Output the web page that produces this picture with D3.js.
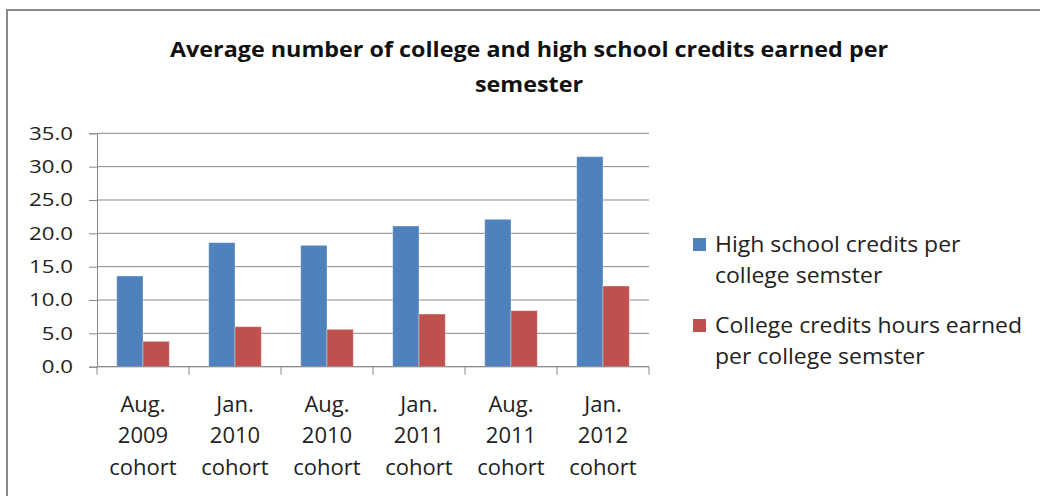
<!DOCTYPE html>
<html>
<head>
<meta charset="utf-8">
<script src="https://cdn.jsdelivr.net/npm/d3@7"></script>
<style>
  html, body { margin: 0; padding: 0; background: #fff; }
  svg { display: block; }
  text { font-family: "Open Sans", sans-serif; fill: #222; }
</style>
</head>
<body>
<svg id="chart" width="1040" height="496"></svg>
<script>
// ---- data ----
const categories = [
  ["Aug.", "2009", "cohort"],
  ["Jan.", "2010", "cohort"],
  ["Aug.", "2010", "cohort"],
  ["Jan.", "2011", "cohort"],
  ["Aug.", "2011", "cohort"],
  ["Jan.", "2012", "cohort"]
];
const seriesNames = [
  ["High school credits per", "college semster"],
  ["College credits hours earned", "per college semster"]
];
const highSchoolCredits = [13.6, 18.6, 18.2, 21.1, 22.1, 31.5];
const collegeCredits = [3.8, 6.0, 5.6, 7.9, 8.4, 12.1];
const yTicks = [0, 5, 10, 15, 20, 25, 30, 35];
const titleLines = ["Average number of college and high school credits earned per", "semester"];
const colors = ["#4F81BD", "#C0504D"];

// ---- layout ----
const svg = d3.select("#chart");
const plot = { left: 97, right: 649, top: 133.3, bottom: 366.7 };
const gridColor = "#898989";

// stretch text horizontally to target factor
function stretch(sel, k) {
  sel.each(function () {
    const w = this.getComputedTextLength();
    d3.select(this).attr("textLength", w * k).attr("lengthAdjust", "spacingAndGlyphs");
  });
}

// outer border
svg.append("rect")
  .attr("x", 7).attr("y", 10).attr("width", 1040).attr("height", 500)
  .attr("fill", "none").attr("stroke", "#8a8a8a").attr("stroke-width", 2);

// title
const title = svg.append("g");
title.selectAll("text").data(titleLines).join("text")
  .attr("x", 529).attr("y", (d, i) => 57 + i * 35)
  .attr("text-anchor", "middle")
  .style("font-weight", "bold").style("font-size", "20.5px")
  .style("fill", "#111")
  .text(d => d);
{
  const t = title.selectAll("text").nodes();
  const k = 718 / t[0].getComputedTextLength();
  stretch(title.selectAll("text"), k);
}

// scales
const idx = categories.map((d, i) => i);
const x0 = d3.scaleBand().domain(idx).range([plot.left, plot.right]).paddingInner(0).paddingOuter(0);
const barW = x0.bandwidth() / 3.5;
const x1 = d3.scaleBand().domain([0, 1]).range([0.75 * barW, 2.75 * barW]).padding(0);
const y = d3.scaleLinear().domain([0, 35]).range([plot.bottom, plot.top]);

// gridlines
svg.append("g").selectAll("line").data(yTicks).join("line")
  .attr("x1", plot.left).attr("x2", plot.right)
  .attr("y1", d => y(d)).attr("y2", d => y(d))
  .attr("stroke", gridColor).attr("stroke-width", 1);

// bars
const series = [highSchoolCredits, collegeCredits];
series.forEach((vals, s) => {
  svg.append("g").selectAll("rect").data(vals).join("rect")
    .attr("x", (d, i) => x0(i) + x1(s))
    .attr("y", d => y(d))
    .attr("width", x1.bandwidth())
    .attr("height", d => y(0) - y(d))
    .attr("fill", colors[s])
    .attr("stroke", "rgba(255,255,255,0.35)").attr("stroke-width", 1);
});

// y axis
const yAxis = svg.append("g").attr("transform", `translate(${plot.left},0)`)
  .call(d3.axisLeft(y).tickValues(yTicks).tickFormat(d3.format(".1f")).tickSize(8).tickPadding(16));
yAxis.select(".domain").attr("stroke", gridColor);
yAxis.selectAll(".tick line").attr("stroke", gridColor);
yAxis.selectAll("text").style("font-size", "18px").style("font-family", "'Open Sans', sans-serif")
  .attr("fill", "#222");
{
  const top = yAxis.selectAll("text").filter(d => d === 35).node();
  const k = 44 / top.getComputedTextLength();
  stretch(yAxis.selectAll("text"), k);
}

// x axis (ticks at category boundaries)
const boundaries = idx.map(i => x0(i)).concat([plot.right]);
const xg = svg.append("g");
xg.append("line").attr("x1", plot.left).attr("x2", plot.right)
  .attr("y1", y(0)).attr("y2", y(0)).attr("stroke", gridColor);
xg.selectAll("line.tk").data(boundaries).join("line").attr("class", "tk")
  .attr("x1", d => d).attr("x2", d => d)
  .attr("y1", y(0)).attr("y2", y(0) + 8).attr("stroke", gridColor);
const catG = xg.selectAll("text").data(categories).join("text")
  .attr("text-anchor", "middle")
  .style("font-size", "22px");
catG.selectAll("tspan").data((d, i) => d.map(line => ({ line, i }))).join("tspan")
  .attr("x", d => x0(d.i) + x0.bandwidth() / 2)
  .attr("y", (d, j) => 411.5 + j * 31.5)
  .text(d => d.line);

// legend
const legend = svg.append("g");
const legendRows = [238, 319];
seriesNames.forEach((lines, s) => {
  legend.append("rect")
    .attr("x", 693).attr("y", legendRows[s]).attr("width", 13).attr("height", 13)
    .attr("fill", colors[s]);
  legend.selectAll(null).data(lines).join("text")
    .attr("class", "lg")
    .attr("x", 715).attr("y", (d, j) => legendRows[s] + 13.5 + j * 31)
    .style("font-size", "21px")
    .text(d => d);
});
{
  const ref = legend.selectAll("text.lg").filter(d => d === "College credits hours earned").node();
  const k = 307 / ref.getComputedTextLength();
  stretch(legend.selectAll("text.lg"), k);
}
</script>
</body>
</html>
